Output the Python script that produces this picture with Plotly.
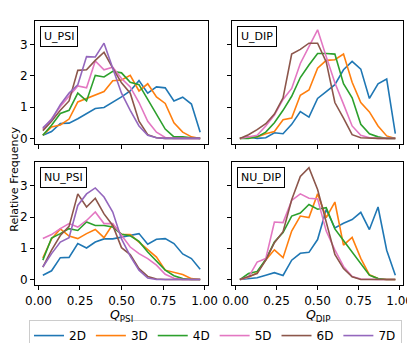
import plotly.graph_objects as go
from plotly.subplots import make_subplots

# 19 histogram bins on [0, 1], values plotted at the bin centres
bin_centres = [0.0263, 0.0789, 0.1316, 0.1842, 0.2368, 0.2895, 0.3421, 0.3947,
               0.4474, 0.5, 0.5526, 0.6053, 0.6579, 0.7105, 0.7632, 0.8158,
               0.8684, 0.9211, 0.9737]

dims = ["2D", "3D", "4D", "5D", "6D", "7D"]
colors = {"2D": "#1f77b4", "3D": "#ff7f0e", "4D": "#2ca02c",
          "5D": "#e377c2", "6D": "#8c564b", "7D": "#9467bd"}

u_psi = {
    "2D": [0.1, 0.22, 0.48, 0.49, 0.63, 0.8, 0.96, 0.99, 1.15, 1.33, 1.52, 1.85, 1.45, 1.65, 1.62, 1.2, 1.32, 1.1, 0.2],
    "3D": [0.1, 0.37, 0.43, 0.62, 1.17, 1.28, 1.4, 1.5, 1.85, 1.87, 2.02, 1.52, 1.75, 1.33, 1.12, 0.5, 0.2, 0.05, 0.0],
    "4D": [0.1, 0.42, 0.8, 0.9, 1.45, 1.2, 2.02, 1.97, 2.15, 2.1, 1.8, 1.72, 1.25, 0.78, 0.3, 0.05, 0.05, 0.02, 0.0],
    "5D": [0.3, 0.63, 1.02, 1.35, 1.68, 1.62, 2.48, 2.2, 2.28, 1.92, 1.65, 1.15, 0.55, 0.2, 0.03, 0.0, 0.0, 0.0, 0.0],
    "6D": [0.25, 0.55, 0.9, 1.2, 2.18, 2.2, 2.5, 2.76, 2.25, 1.78, 1.45, 0.55, 0.12, 0.02, 0.0, 0.0, 0.0, 0.0, 0.0],
    "7D": [0.34, 0.6, 1.08, 1.45, 1.72, 2.62, 2.61, 3.05, 2.25, 1.45, 0.9, 0.4, 0.1, 0.02, 0.0, 0.0, 0.0, 0.0, 0.0],
}
u_dip = {
    "2D": [0.0, 0.05, 0.0, 0.02, 0.18, 0.15, 0.45, 0.86, 0.68, 1.28, 1.5, 1.72, 2.2, 2.47, 2.22, 1.28, 1.75, 1.9, 0.15],
    "3D": [0.0, 0.02, 0.05, 0.15, 0.22, 0.6, 0.65, 1.38, 1.55, 2.25, 2.5, 2.52, 2.7, 1.8, 1.15, 0.85, 0.4, 0.08, 0.0],
    "4D": [0.0, 0.0, 0.05, 0.2, 0.5, 0.9, 1.35, 1.95, 2.35, 2.72, 2.72, 2.7, 1.75, 1.3, 0.45, 0.15, 0.05, 0.0, 0.0],
    "5D": [0.0, 0.05, 0.1, 0.4, 0.75, 1.25, 1.6, 2.4, 2.95, 3.48, 2.62, 1.78, 1.1, 0.4, 0.1, 0.02, 0.0, 0.0, 0.0],
    "6D": [0.0, 0.12, 0.28, 0.47, 0.78, 1.3, 2.7, 2.85, 3.05, 3.05, 2.45, 1.15, 0.65, 0.12, 0.02, 0.0, 0.0, 0.0, 0.0],
}
nu_psi = {
    "2D": [0.14, 0.28, 0.7, 0.71, 1.15, 1.01, 1.2, 1.3, 1.3, 1.35, 1.42, 1.47, 1.13, 1.29, 1.31, 1.15, 0.82, 0.67, 0.33],
    "3D": [0.69, 1.3, 1.62, 1.39, 1.31, 1.47, 1.6, 1.34, 1.77, 1.44, 1.44, 1.2, 0.99, 0.72, 0.3, 0.24, 0.16, 0.03, 0.0],
    "4D": [0.62, 1.33, 1.47, 1.63, 1.57, 1.84, 1.73, 1.73, 1.68, 1.45, 1.4, 1.22, 0.88, 0.6, 0.3, 0.12, 0.03, 0.0, 0.0],
    "5D": [1.31, 1.44, 1.63, 1.79, 1.68, 1.89, 2.16, 1.79, 1.79, 1.4, 1.04, 0.83, 0.67, 0.46, 0.17, 0.04, 0.0, 0.0, 0.0],
    "6D": [0.4, 0.94, 1.41, 1.7, 2.74, 2.32, 2.6, 2.1, 1.73, 1.02, 0.8, 0.35, 0.1, 0.02, 0.0, 0.0, 0.0, 0.0, 0.0],
    "7D": [0.4, 0.83, 1.2, 1.34, 2.37, 2.74, 2.93, 2.64, 2.16, 1.3, 0.75, 0.3, 0.05, 0.0, 0.0, 0.0, 0.0, 0.0, 0.0],
}
nu_dip = {
    "2D": [0.0, 0.03, 0.06, 0.14, 0.22, 0.13, 0.62, 0.84, 0.87, 1.28, 2.24, 1.65, 1.8, 1.92, 2.15, 1.6, 2.32, 0.94, 0.14],
    "3D": [0.0, 0.07, 0.22, 0.63, 0.95, 0.7, 1.55, 2.03, 1.98, 2.74, 1.98, 2.48, 1.1, 1.35, 0.68, 0.15, 0.03, 0.0, 0.0],
    "4D": [0.0, 0.19, 0.26, 0.64, 1.2, 1.5, 2.03, 2.13, 2.4, 2.25, 2.3, 1.62, 1.25, 0.88, 0.5, 0.14, 0.03, 0.0, 0.0],
    "5D": [0.0, 0.08, 0.56, 0.67, 1.84, 1.82, 2.53, 2.74, 2.6, 2.58, 1.55, 0.95, 0.42, 0.1, 0.02, 0.0, 0.0, 0.0, 0.0],
    "6D": [0.0, 0.1, 0.19, 0.62, 1.18, 1.53, 2.55, 3.3, 3.58, 2.88, 1.84, 0.8, 0.35, 0.09, 0.0, 0.0, 0.0, 0.0, 0.0],
}

panels = [("U_PSI", u_psi, 1, 1), ("U_DIP", u_dip, 1, 2),
          ("NU_PSI", nu_psi, 2, 1), ("NU_DIP", nu_dip, 2, 2)]

fig = make_subplots(rows=2, cols=2)

for name, data, r, c in panels:
    for d in dims:
        if d not in data:
            continue
        fig.add_trace(
            go.Scatter(
                x=bin_centres,
                y=data[d],
                mode="lines",
                name=d,
                legendgroup=d,
                showlegend=(name == "U_PSI"),
                line=dict(color=colors[d], width=1.6),
            ),
            row=r,
            col=c,
        )
    n = (r - 1) * 2 + c
    sfx = "" if n == 1 else str(n)
    fig.add_annotation(
        text=name,
        xref=f"x{sfx} domain",
        yref=f"y{sfx} domain",
        x=0.03,
        y=0.96,
        xanchor="left",
        yanchor="top",
        showarrow=False,
        font=dict(size=11, color="black"),
        bordercolor="black",
        borderwidth=1,
        borderpad=3,
        bgcolor="white",
    )

left_dom = [0.065, 0.482]
right_dom = [0.540, 0.952]
top_dom = [0.6035, 0.962]
bottom_dom = [0.192, 0.551]

axis_style = dict(
    showgrid=False,
    zeroline=False,
    showline=True,
    linecolor="black",
    linewidth=1,
    mirror=True,
    ticks="outside",
    ticklen=4,
    tickwidth=1,
    tickcolor="black",
    tickfont=dict(size=12, color="black"),
)

for i, (xd, yd) in enumerate([(left_dom, top_dom), (right_dom, top_dom),
                              (left_dom, bottom_dom), (right_dom, bottom_dom)]):
    sfx = "" if i == 0 else str(i + 1)
    fig.layout["xaxis" + sfx].update(
        domain=xd, range=[-0.021, 1.021],
        tickvals=[0, 0.25, 0.5, 0.75, 1.0],
        ticktext=["0.00", "0.25", "0.50", "0.75", "1.00"],
        showticklabels=i >= 2, automargin=False, **axis_style,
    )
    fig.layout["yaxis" + sfx].update(
        domain=yd, range=[-0.179, 3.76],
        tickvals=[0, 1, 2, 3],
        showticklabels=i % 2 == 0, automargin=False, **axis_style,
    )

fig.add_annotation(text="<i>Q</i><sub>PSI</sub>", xref="paper", yref="paper",
                   x=0.2735, y=0.103, xanchor="center", yanchor="middle",
                   showarrow=False, font=dict(size=12.5, color="black"))
fig.add_annotation(text="<i>Q</i><sub>DIP</sub>", xref="paper", yref="paper",
                   x=0.746, y=0.103, xanchor="center", yanchor="middle",
                   showarrow=False, font=dict(size=12.5, color="black"))
fig.add_annotation(text="Relative Frequency", xref="paper", yref="paper",
                   x=0.015, y=0.5, xanchor="center", yanchor="middle",
                   textangle=-90, showarrow=False,
                   font=dict(size=11, color="black"))

fig.update_layout(
    width=415,
    height=343,
    margin=dict(l=0, r=0, t=0, b=0, autoexpand=False),
    paper_bgcolor="white",
    plot_bgcolor="white",
    font=dict(family="DejaVu Sans", color="black"),
    legend=dict(
        orientation="h",
        x=0.5,
        xanchor="center",
        y=0.045,
        yanchor="middle",
        bordercolor="#cccccc",
        borderwidth=1,
        font=dict(size=12),
        itemwidth=30,
    ),
)

fig.write_html("out.html")
